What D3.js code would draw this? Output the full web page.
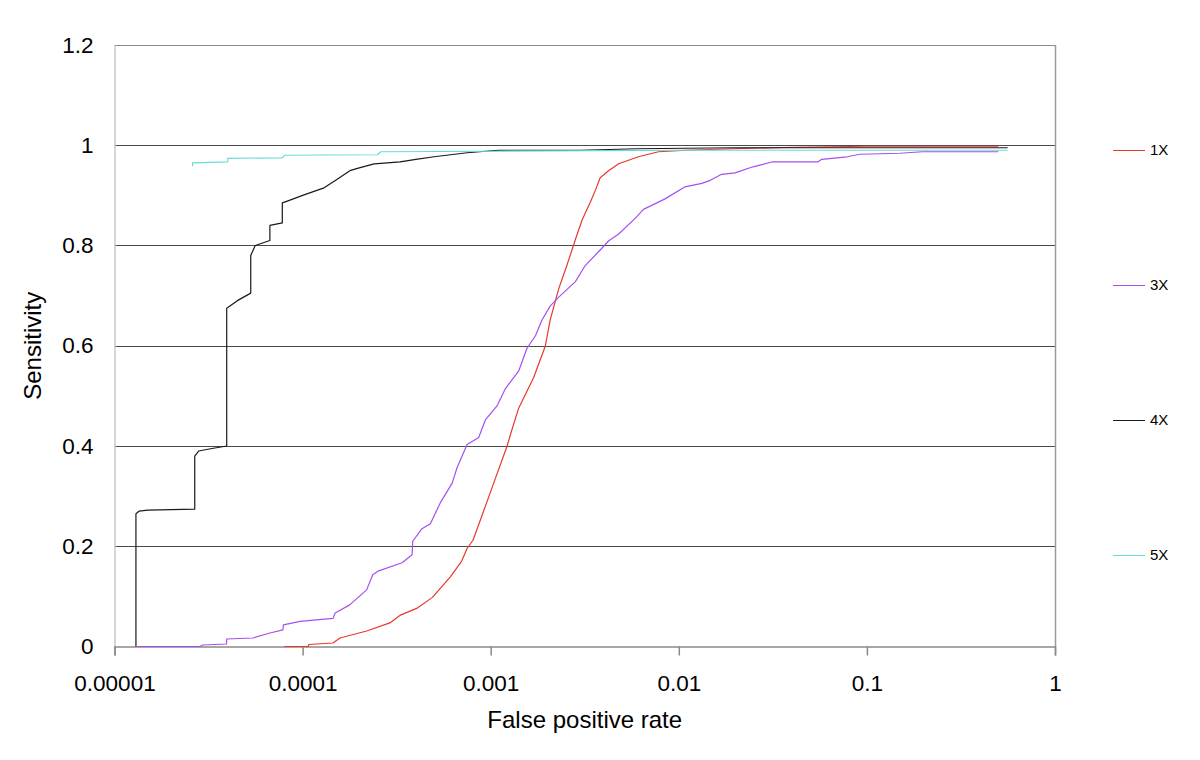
<!DOCTYPE html>
<html>
<head>
<meta charset="utf-8">
<script src="https://cdn.jsdelivr.net/npm/d3@7"></script>
<style>
  html, body { margin: 0; padding: 0; background: #fff; }
  svg { display: block; font-family: "Liberation Sans", Arial, Helvetica, sans-serif; }
</style>
</head>
<body>
<svg id="chart" width="1200" height="760"></svg>
<script>
// ---- Data (false positive rate, sensitivity) ----
const seriesNames = ["1X", "3X", "4X", "5X"];
const seriesColors = ["#e8372c", "#a450f0", "#1a1a1a", "#66dcd8"];

const data1X = [[8e-5,0],[1.07e-4,0],[1.08e-4,0.004],[1.45e-4,0.007],[1.58e-4,0.017],[2.19e-4,0.031],[2.91e-4,0.047],[3.29e-4,0.062],[4.04e-4,0.076],[4.9e-4,0.098],[6.1e-4,0.139],[7.0e-4,0.17],[7.5e-4,0.196],[8.05e-4,0.212],[9.5e-4,0.286],[1.06e-3,0.336],[1.22e-3,0.399],[1.3e-3,0.434],[1.41e-3,0.476],[1.69e-3,0.536],[1.95e-3,0.599],[2.07e-3,0.651],[2.3e-3,0.714],[2.54e-3,0.76],[2.82e-3,0.812],[3.06e-3,0.851],[3.38e-3,0.886],[3.6e-3,0.91],[3.82e-3,0.935],[4.23e-3,0.949],[4.79e-3,0.963],[6.1e-3,0.977],[7.8e-3,0.987],[0.011,0.99],[0.0195,0.993],[0.04,0.996],[0.1,0.998],[0.5,0.998]];

const data3X = [[1.32e-5,0],[2.84e-5,0],[2.95e-5,0.003],[3.94e-5,0.005],[3.95e-5,0.015],[5.44e-5,0.017],[6.7e-5,0.027],[7.86e-5,0.033],[7.9e-5,0.043],[9.7e-5,0.05],[1.45e-4,0.056],[1.49e-4,0.067],[1.78e-4,0.083],[2.19e-4,0.113],[2.36e-4,0.143],[2.54e-4,0.151],[3.38e-4,0.167],[3.82e-4,0.183],[3.85e-4,0.21],[4.31e-4,0.235],[4.78e-4,0.245],[5.4e-4,0.287],[6.24e-4,0.326],[6.63e-4,0.357],[7.49e-4,0.403],[8.63e-4,0.417],[9.37e-4,0.452],[1.08e-3,0.48],[1.2e-3,0.515],[1.41e-3,0.55],[1.56e-3,0.595],[1.73e-3,0.62],[1.87e-3,0.651],[2.07e-3,0.679],[2.3e-3,0.697],[2.82e-3,0.728],[3.18e-3,0.76],[3.82e-3,0.791],[4.23e-3,0.809],[4.79e-3,0.823],[5.86e-3,0.854],[6.49e-3,0.872],[8.45e-3,0.893],[0.0108,0.917],[0.01325,0.924],[0.0147,0.93],[0.0169,0.942],[0.0199,0.945],[0.0248,0.957],[0.0316,0.967],[0.055,0.967],[0.0575,0.972],[0.0784,0.977],[0.0918,0.982],[0.15,0.984],[0.197,0.987],[0.5,0.987]];

const data4X = [[1.3e-5,0],[1.3e-5,0.265],[1.35e-5,0.27],[1.5e-5,0.272],[2.67e-5,0.274],[2.67e-5,0.38],[2.8e-5,0.39],[3.3e-5,0.395],[3.95e-5,0.4],[3.95e-5,0.675],[4.5e-5,0.69],[5.3e-5,0.705],[5.3e-5,0.78],[5.6e-5,0.8],[6.7e-5,0.81],[6.7e-5,0.84],[7.8e-5,0.845],[7.8e-5,0.885],[8.5e-5,0.89],[1.0e-4,0.9],[1.3e-4,0.915],[1.5e-4,0.93],[1.8e-4,0.95],[2.0e-4,0.955],[2.4e-4,0.963],[3.3e-4,0.967],[4.0e-4,0.972],[5.0e-4,0.977],[7.5e-4,0.985],[1.1e-3,0.99],[3e-3,0.99],[6e-3,0.993],[0.02,0.995],[0.1,0.995],[0.56,0.995]];

const data5X = [[2.6e-5,0.958],[2.6e-5,0.965],[4.0e-5,0.967],[4.0e-5,0.974],[7.8e-5,0.975],[8.0e-5,0.98],[2.5e-4,0.981],[2.6e-4,0.987],[1.1e-3,0.988],[0.01,0.99],[0.1,0.99],[0.56,0.99]];

const allSeries = [data1X, data3X, data4X, data5X];

const xTickValues = [1e-5, 1e-4, 1e-3, 1e-2, 1e-1, 1];
const xTickLabels = ["0.00001", "0.0001", "0.001", "0.01", "0.1", "1"];
const yTickValues = [0, 0.2, 0.4, 0.6, 0.8, 1.0, 1.2];
const yTickLabels = ["0", "0.2", "0.4", "0.6", "0.8", "1", "1.2"];

const xTitle = "False positive rate";
const yTitle = "Sensitivity";

// ---- Layout ----
const svg = d3.select("#chart");
const plot = { left: 114.5, right: 1055, top: 45, bottom: 646.5 };

const x = d3.scaleLog().domain([1e-5, 1]).range([plot.left, plot.right]);
const y = d3.scaleLinear().domain([0, 1.2]).range([plot.bottom, plot.top]);

svg.append("rect").attr("width", 1200).attr("height", 760).attr("fill", "#fff");

// gridlines
svg.append("g").selectAll("line")
  .data(yTickValues.filter(v => v > 0 && v < 1.2))
  .join("line")
  .attr("x1", plot.left).attr("x2", plot.right)
  .attr("y1", d => Math.round(y(d)) + 0.5).attr("y2", d => Math.round(y(d)) + 0.5)
  .attr("stroke", "#4a4a4a").attr("stroke-width", 1);

// top & right frame
svg.append("line").attr("x1", plot.left).attr("x2", plot.right)
  .attr("y1", Math.round(y(1.2)) + 0.5).attr("y2", Math.round(y(1.2)) + 0.5)
  .attr("stroke", "#8a8a8a");
svg.append("line").attr("x1", Math.round(plot.right) + 0.5).attr("x2", Math.round(plot.right) + 0.5)
  .attr("y1", plot.top).attr("y2", plot.bottom)
  .attr("stroke", "#9a9a9a").attr("stroke-width", 1.5);

// y axis
const yAxis = svg.append("g")
  .attr("transform", `translate(${plot.left},0)`)
  .call(d3.axisLeft(y).tickValues(yTickValues).tickSize(0).tickPadding(21)
    .tickFormat((d, i) => yTickLabels[i]));
yAxis.select(".domain").attr("stroke", "#c8c8c8").attr("stroke-width", 1.5);
yAxis.selectAll("text").attr("font-size", "22.5px").attr("fill", "#000")
  .attr("font-family", "Liberation Sans, Arial, sans-serif");

// x axis
const xAxis = svg.append("g")
  .attr("transform", `translate(0,${plot.bottom})`)
  .call(d3.axisBottom(x).tickValues(xTickValues).tickSize(9).tickPadding(20)
    .tickFormat((d, i) => xTickLabels[i]));
xAxis.select(".domain").attr("stroke", "#8a8a8a").attr("stroke-width", 1.5);
xAxis.selectAll(".tick line").attr("stroke", "#8a8a8a").attr("stroke-width", 1.5);
xAxis.selectAll("text").attr("font-size", "22.5px").attr("fill", "#000")
  .attr("font-family", "Liberation Sans, Arial, sans-serif");

// series lines
const line = d3.line().x(d => x(d[0])).y(d => y(d[1]));
svg.append("g").selectAll("path")
  .data(allSeries)
  .join("path")
  .attr("d", line)
  .attr("fill", "none")
  .attr("stroke", (d, i) => seriesColors[i])
  .attr("stroke-width", 1.2)
  .attr("stroke-linejoin", "round");

// axis titles
svg.append("text").attr("x", (plot.left + plot.right) / 2 + 0).attr("y", 728)
  .attr("text-anchor", "middle").attr("font-size", "24px").attr("fill", "#000")
  .text(xTitle);
svg.append("text").attr("transform", `translate(41,${(plot.top + plot.bottom) / 2}) rotate(-90)`)
  .attr("text-anchor", "middle").attr("font-size", "24px").attr("fill", "#000")
  .text(yTitle);

// legend
const legendY = [150, 285, 420, 555];
const legend = svg.append("g").selectAll("g")
  .data(seriesNames)
  .join("g")
  .attr("transform", (d, i) => `translate(0,${legendY[i]})`);
legend.append("line").attr("x1", 1113).attr("x2", 1145).attr("y1", 0.5).attr("y2", 0.5)
  .attr("stroke", (d, i) => seriesColors[i]).attr("stroke-width", 1);
legend.append("text").attr("x", 1150).attr("y", 0).attr("dy", "0.36em")
  .attr("font-size", "15px").attr("fill", "#000").text(d => d);
</script>
</body>
</html>
